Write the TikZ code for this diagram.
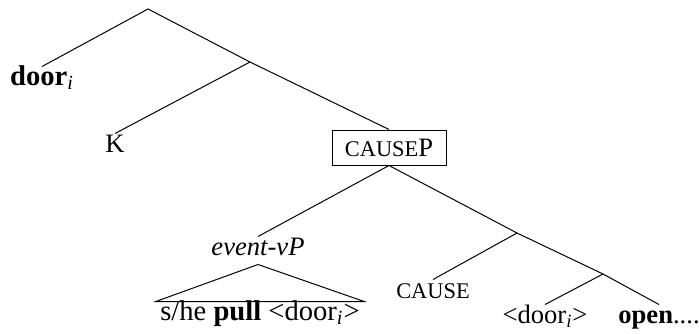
\documentclass[tikz,border=0pt]{standalone}
\usepackage{fontspec}
\setmainfont{Liberation Serif}
% faked small capitals (the font has no smcp feature)
\newcommand{\smcaps}[1]{{\fontsize{11.2pt}{13pt}\selectfont #1}}
\begin{document}
\begin{tikzpicture}[x=0.5pt, y=-0.5pt, line width=0.5pt,
    font=\fontsize{13.3pt}{16pt}\selectfont,
    leaf/.style={anchor=base, inner sep=2pt, text height=0.7em, text depth=0.25em},
    bigleaf/.style={leaf, font=\fontsize{14.3pt}{17pt}\selectfont},
    labelbox/.style={draw, inner sep=0pt, minimum width=57pt, minimum height=17.5pt}]
    \useasboundingbox (0,0) rectangle (699,333);
    % branching points
    \coordinate (root) at (148,9);
    \coordinate (kbar) at (250,62);
    \coordinate (cbar) at (517,233);
    \coordinate (vbar) at (603,274);
    % upper part
    \node[bigleaf] (door) at (42,85) {\textbf{door}\textsubscript{\textit{i}}};
    \node[leaf] (k) at (115,152) {K};
    \node[labelbox] (causep) at (389,147.5) {\smcaps{CAUSE}P};
    \draw (door.north) -- (root) -- (kbar) -- (causep.north);
    \draw (k.north) -- (kbar);
    % lower part
    \node[leaf] (vp) at (258,255) {\textit{event-vP}};
    \node[bigleaf] (phrase) at (260,320) {s/he \textbf{pull} <door\textsubscript{\textit{i}}>};
    \node[leaf] (cause) at (433,298) {\smcaps{CAUSE}};
    \node[leaf] (trace) at (545,323) {<door\textsubscript{\textit{i}}>};
    \node[leaf] (open) at (659,323) {\textbf{open}....};
    \draw (vp.north) -- (causep.south) -- (cbar) -- (vbar) -- (open.north);
    \draw (cause.north) -- (cbar);
    \draw (trace.north) -- (vbar);
    % triangle over the vP
    \draw (vp.south) -- (phrase.north west) -- (phrase.north east) -- cycle;
\end{tikzpicture}
\end{document}
